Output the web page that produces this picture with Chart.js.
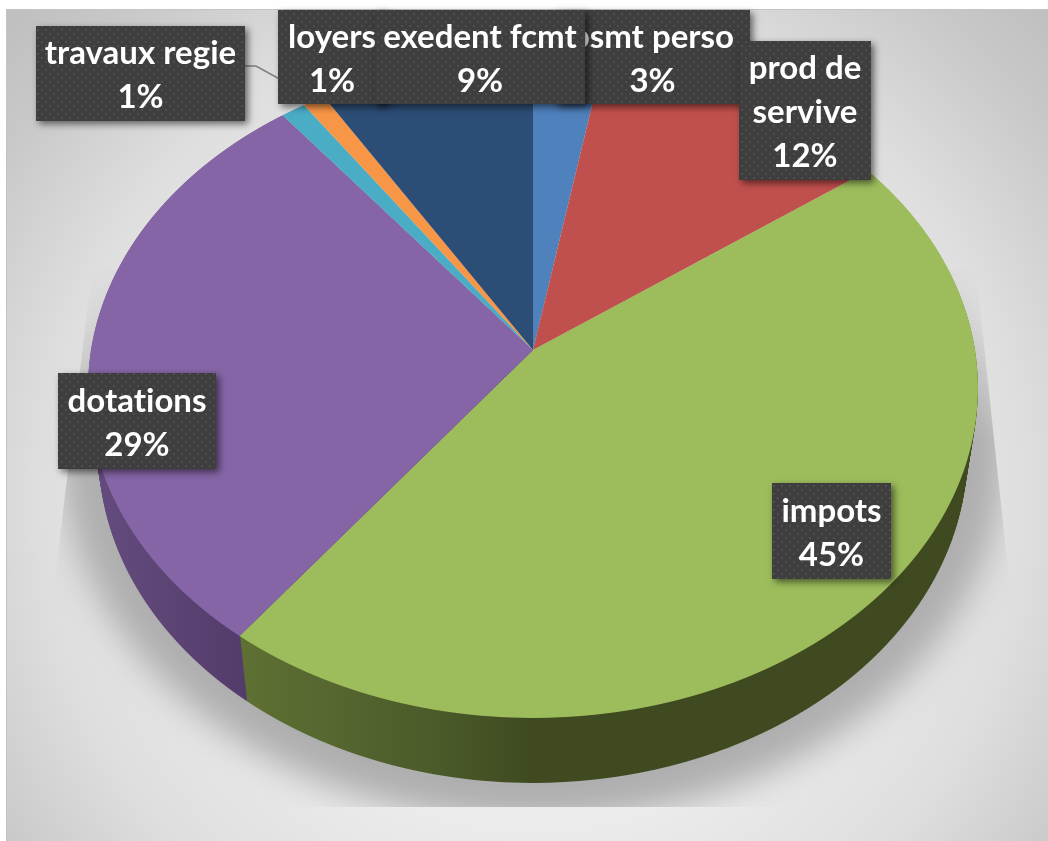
<!DOCTYPE html>
<html><head><meta charset="utf-8">
<style>html,body{margin:0;padding:0;background:#fff}canvas{display:block}</style>
<script src="https://cdn.jsdelivr.net/npm/chart.js@4"></script>
</head><body><canvas id="c" width="1048" height="841"></canvas>
<script>
const categories=['psmt perso','prod de servive','impots','dotations','travaux regie','loyers','exedent fcmt'];
const values=[2.8,12.2,45.3,29.1,1,0.9,8.7];
const colors=['#4f81bd','#c0504d','#9dbd5c','#8565a6','#4bacc6','#f79646','#2c4d75'];

// Label boxes in page coordinates, in drawing order (index into categories)
const boxes=[
 {i:0,x:555,y:10,w:195,h:94},
 {i:1,x:739,y:41,w:132,h:139},
 {i:2,x:772,y:483,w:119,h:96},
 {i:3,x:58,y:373,w:158,h:96},
 {i:4,x:36,y:26,w:209,h:95},
 {i:5,x:278,y:10,w:108,h:94},
 {i:6,x:375,y:10,w:210,h:94}
];
// Projection of the pie plane (perspective tilt)
const P={ax:533,ay:350,a:442,b:325.6,k:0.115};
const DEPTH=65, XSHRINK=0.024;

function stripTransform(ctx,arc,Y,pr){
  const r=arc.outerRadius, dy=Y-pr.ay, y=dy/(pr.b+pr.k*dy), w=1-pr.k*y;
  const sx=pr.a/w/r, sy=pr.b/(w*w)/r;
  const tx=pr.ax-sx*arc.x, ty=Y-sy*(arc.y+y*r);
  return {sx,sy,tx,ty};
}
function drawProjected(ctx,arcs,pr,step,paint){
  const top=Math.floor(pr.ay-pr.b/(1+pr.k))-1, bot=Math.ceil(pr.ay+pr.b/(1-pr.k))+1;
  for(let Y=top;Y<bot;Y+=step){
    const t=stripTransform(ctx,arcs[0].el,Y+step/2,pr);
    ctx.save();
    ctx.beginPath();ctx.rect(0,Y,1048,step);ctx.clip();
    ctx.setTransform(t.sx,0,0,t.sy,t.tx,t.ty);
    arcs.forEach(a=>paint(a,t));
    ctx.restore();
  }
}
function sideGrad(ctx,t,stops){
  const x0=stops[0][0],x1=stops[stops.length-1][0];
  const g=ctx.createLinearGradient((x0-t.tx)/t.sx,0,(x1-t.tx)/t.sx,0);
  stops.forEach(s=>g.addColorStop((s[0]-x0)/(x1-x0),s[1]));
  return g;
}
const sideStops={
 3:[[90,'#654c7f'],[245,'#533c6a']],
 2:[[240,'#5f7033'],[330,'#566730'],[440,'#4a5a29'],[530,'#3f4a20'],[1000,'#3f4a20']]
};
function background(ctx){
  ctx.fillStyle='#fff';ctx.fillRect(0,0,1048,841);
  ctx.save();
  ctx.beginPath();ctx.rect(6,9,1042,832);ctx.clip();
  const g=ctx.createRadialGradient(533,500,0,533,500,705);
  g.addColorStop(0,'#f0f0f0');g.addColorStop(.47,'#ebebeb');g.addColorStop(.7,'#dedede');g.addColorStop(.9,'#c8c8c8');g.addColorStop(1,'#c0c0c0');
  ctx.fillStyle=g;ctx.fillRect(6,9,1042,832);
  ctx.fillStyle='#c4c4c4';ctx.fillRect(6,9,1042,1);ctx.fillRect(6,9,1,832);
  ctx.restore();
  // cast shadow on its own layer: fades in towards the top, cut off by a trapezoid
  const s=document.createElement('canvas');s.width=1048;s.height=841;
  const c=s.getContext('2d');
  c.filter='blur(17px)';
  c.fillStyle='#aeaeae';
  c.beginPath();c.ellipse(533,450,472,372,0,0,Math.PI*2);c.fill();
  c.filter='none';
  c.globalCompositeOperation='destination-in';
  const f=c.createLinearGradient(0,250,0,440);
  f.addColorStop(0,'rgba(0,0,0,0)');f.addColorStop(1,'rgba(0,0,0,1)');
  c.fillStyle=f;c.fillRect(0,0,1048,841);
  ctx.save();
  ctx.beginPath();ctx.moveTo(92,270);ctx.lineTo(976,270);ctx.lineTo(1008,570);ctx.lineTo(1048,807);ctx.lineTo(6,807);ctx.lineTo(56,570);ctx.closePath();ctx.clip();
  ctx.drawImage(s,0,0);
  ctx.restore();
}
function drawLabels(ctx){
  const total=values.reduce((a,b)=>a+b,0);
  const tile=document.createElement('canvas');tile.width=tile.height=8;
  const tc=tile.getContext('2d');
  tc.fillStyle='#3e3e3e';tc.fillRect(0,0,8,8);
  tc.fillStyle='#4e4e4e';tc.fillRect(1,1,2,2);tc.fillRect(5,5,2,2);
  const pat=ctx.createPattern(tile,'repeat');
  // leader line for the small slice
  ctx.strokeStyle='#7f7f7f';ctx.lineWidth=1.5;
  ctx.beginPath();ctx.moveTo(245,66);ctx.lineTo(256,66);ctx.lineTo(285,82);ctx.stroke();
  ctx.font='bold 33px Lato';
  ctx.letterSpacing='0.01px';
  ctx.textAlign='center';ctx.textBaseline='middle';
  boxes.forEach(b=>{
    ctx.save();
    ctx.shadowColor='rgba(0,0,0,.55)';ctx.shadowBlur=7;ctx.shadowOffsetX=3;ctx.shadowOffsetY=3;
    ctx.fillStyle='#3e3e3e';ctx.fillRect(b.x,b.y,b.w,b.h);
    ctx.restore();
    ctx.fillStyle=pat;ctx.fillRect(b.x,b.y,b.w,b.h);
    const words=categories[b.i].split(' '),lines=[];
    let cur='';
    words.forEach(w=>{
      const n=cur?cur+' '+w:w;
      if(ctx.measureText(n).width>b.w-6&&cur){lines.push(cur);cur=w}else cur=n;
    });
    lines.push(cur);lines.push(Math.round(values[b.i]/total*100)+'%');
    const lh=44,cy=b.y+b.h/2+2;
    ctx.fillStyle='#fff';
    lines.forEach((l,j)=>ctx.fillText(l,b.x+b.w/2,cy+(j-(lines.length-1)/2)*lh));
  });
}
const pie3d={
  id:'pie3d',
  beforeDraw(chart){background(chart.ctx)},
  beforeDatasetsDraw(chart){
    const ctx=chart.ctx,meta=chart.getDatasetMeta(0);
    const all=meta.data.map((el,i)=>({el,i}));
    const side=[all[3],all[2]];
    for(let d=DEPTH;d>=0;d-=1.5){
      const f=d/DEPTH;
      const pr={ax:P.ax,ay:P.ay+d,a:P.a*(1-XSHRINK*f),b:P.b,k:P.k};
      drawProjected(ctx,side,pr,2,(a,t)=>{
        const o=a.el.options;
        a.el.options=Object.assign(Object.create(o),{backgroundColor:sideGrad(ctx,t,sideStops[a.i])});
        a.el.draw(ctx);
        a.el.options=o;
      });
    }
    drawProjected(ctx,all,P,1,a=>a.el.draw(ctx));
    drawLabels(ctx);
    return false;
  }
};
new Chart(document.getElementById('c'),{
  type:'pie',
  data:{labels:categories,datasets:[{data:values,backgroundColor:colors,borderWidth:0}]},
  options:{responsive:false,animation:false,events:[],
    plugins:{legend:{display:false},tooltip:{enabled:false}}},
  plugins:[pie3d]
});
</script></body></html>
